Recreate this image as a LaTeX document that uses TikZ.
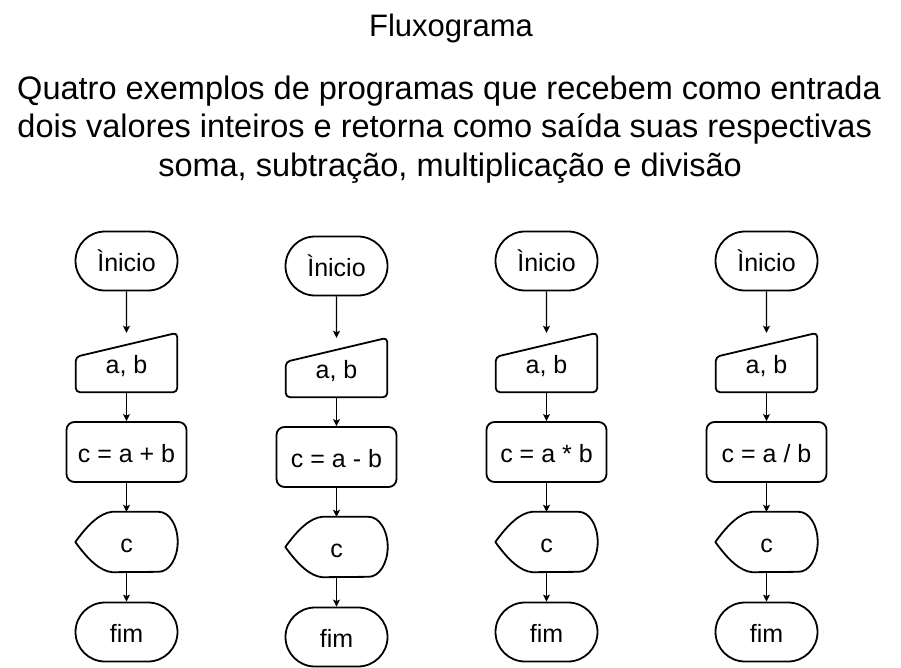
\documentclass[tikz,border=0pt]{standalone}
\usepackage{fontspec}
\setmainfont{Liberation Sans}
\usetikzlibrary{arrows.meta, shapes.misc, calc}

\tikzset{
  texto/.style={inner sep=0pt, font=\fontsize{25}{30}\selectfont, text height=21pt, text depth=0pt},
  inicio/.style={texto, rounded rectangle, draw, line width=1.8pt, minimum width=102pt, minimum height=59pt},
  entrada/.style={texto, rectangle, minimum width=101pt, minimum height=59pt},
  processo/.style={texto, rectangle, rounded corners=8pt, draw, line width=1.8pt, minimum width=120pt, minimum height=60pt},
  saida/.style={texto, rectangle, minimum width=102pt, minimum height=60pt},
  borda/.style={line width=1.8pt, line join=round},
  seta/.style={->, line width=1.2pt},
  titulo/.style={inner sep=0pt, font=\fontsize{32.5}{39}\selectfont, anchor=base},
}

\begin{document}
\begin{tikzpicture}[x=1pt, y=-1pt, >={Stealth[length=7pt, width=7pt, inset=1.5pt]}]
  \useasboundingbox (0,0) rectangle (901,668);

  \node[titulo, font=\fontsize{31}{37}\selectfont] (titulo) at (451, 36.7) {Fluxograma};
  \node[titulo] (desc1) at (449, 99.5) {Quatro exemplos de programas que recebem como entrada};
  \node[titulo] (desc2) at (444.7, 138) {dois valores inteiros e retorna como saída suas respectivas};
  \node[titulo] (desc3) at (450, 176.5) {soma, subtração, multiplicação e divisão};

  \foreach \cx/\dy/\op [count=\i] in {126.5/0/{+}, 336.5/5/{-}, 546.5/0/{*}, 766.5/0/{/}} {
    \node[inicio] (ini\i) at (\cx, 261+\dy) {Ìnicio};
    \node[entrada] (ent\i) at (\cx, 362.5+\dy) {a, b};
    \node[processo] (proc\i) at (\cx, 452+\dy) {c = a \op{} b};
    \node[saida] (sai\i) at (\cx, 542+\dy) {c};
    \node[inicio] (fim\i) at (\cx, 632+\dy) {fim};

    % entrada manual e exibicao
    \draw[borda, rounded corners=4pt] (ent\i.south west) -- ($(ent\i.north west)+(0,24)$)
      -- (ent\i.north east) -- (ent\i.south east) -- cycle;
    \draw[borda] (sai\i.west) .. controls +(13,-18) and +(-12,1) .. ($(sai\i.north west)+(37,0)$)
      -- ($(sai\i.north east)+(-19,0)$) arc[start angle=-90, end angle=90, x radius=19, y radius=30]
      -- ($(sai\i.south west)+(37,0)$) .. controls +(-12,-1) and +(13,18) .. (sai\i.west) -- cycle;

    \draw[seta] (ini\i) -- (ent\i);
    \draw[seta] (ent\i) -- (proc\i);
    \draw[seta] (proc\i) -- (sai\i);
    \draw[seta] (sai\i) -- (fim\i);
  }
\end{tikzpicture}
\end{document}
